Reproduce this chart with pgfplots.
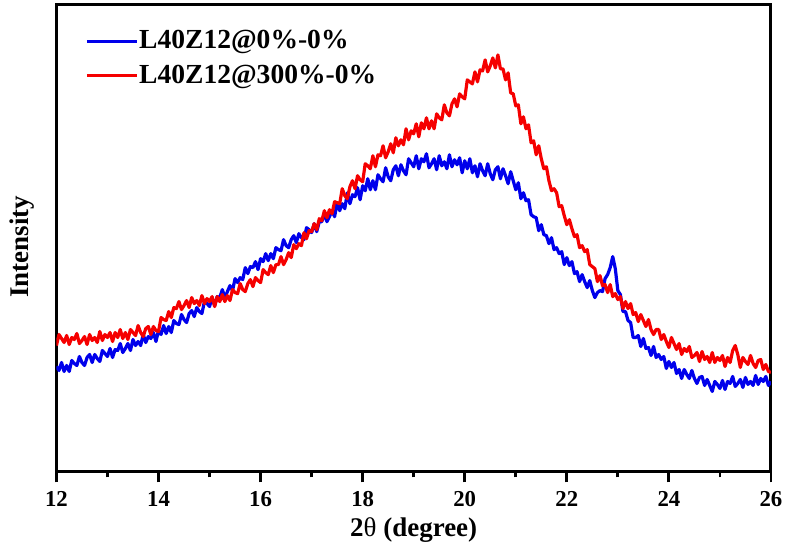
\documentclass[border=0pt]{standalone}
\usepackage{pgfplots}
\pgfplotsset{compat=1.18}
\usepackage{fontspec}
\setmainfont{Liberation Serif}
\definecolor{cblue}{RGB}{0,0,235}
\definecolor{cred}{RGB}{245,0,0}
\begin{document}
\begin{tikzpicture}
\begin{axis}[
  scale only axis, width=357.75pt, height=233.5pt,
  xmin=12, xmax=26, ymin=0, ymax=467,
  xtick={12,14,...,26}, minor x tick num=1, xtick pos=left, ytick=\empty,
  tick align=outside, major tick length=5.5pt, minor tick length=3pt,
  axis line style={line width=1.5pt},
  tick style={line width=1.4pt, black},
  /pgf/number format/assume math mode=true,
  xticklabel style={font=\bfseries\fontsize{11.4}{13}\selectfont, yshift=-1pt},
  xlabel={2{\mdseries θ} (degree)},
  ylabel={Intensity},
  xlabel style={font=\bfseries\fontsize{13.5}{16}\selectfont, at={(axis description cs:0.5,-0.139)}, anchor=base},
  ylabel style={font=\bfseries\fontsize{13.5}{16}\selectfont, at={(axis description cs:-0.048,0.482)}, anchor=center},
  legend style={draw=none, fill=none, inner sep=0pt, at={(axis description cs:0.0398,0.948)}, anchor=north west,
    font=\bfseries\fontsize{13.8}{16}\selectfont, row sep=5.5pt, nodes={inner sep=0.5pt}},
  legend image code/.code={\draw[#1, line width=1.5pt] (0pt,0pt) -- (25pt,0pt);},
  legend cell align=left,
  every axis plot/.append style={line width=1.6pt, line join=round},
]
\addplot[cblue, no marks] coordinates {
(12.00,105)(12.05,101)(12.10,109)(12.15,100)(12.20,106)(12.25,100)(12.30,111)(12.35,108)(12.40,106)(12.45,115)
(12.50,109)(12.55,106)(12.60,114)(12.65,117)(12.70,109)(12.75,117)(12.80,113)(12.85,110)(12.90,121)(12.95,118)
(13.00,115)(13.05,123)(13.10,114)(13.15,122)(13.20,121)(13.25,128)(13.30,119)(13.35,123)(13.40,128)(13.45,121)
(13.50,132)(13.55,126)(13.60,130)(13.65,126)(13.70,137)(13.75,129)(13.80,135)(13.85,133)(13.90,139)(13.95,130)
(14.00,141)(14.05,137)(14.10,146)(14.15,138)(14.20,145)(14.25,139)(14.30,151)(14.35,148)(14.40,147)(14.45,157)
(14.50,152)(14.55,149)(14.60,158)(14.65,161)(14.70,155)(14.75,164)(14.80,160)(14.85,158)(14.90,170)(14.95,168)
(15.00,165)(15.05,174)(15.10,166)(15.15,175)(15.20,174)(15.25,182)(15.30,174)(15.35,180)(15.40,186)(15.45,181)
(15.50,193)(15.55,189)(15.60,194)(15.65,192)(15.70,204)(15.75,198)(15.80,205)(15.85,204)(15.90,210)(15.95,202)
(16.00,213)(16.05,210)(16.10,218)(16.15,211)(16.20,218)(16.25,213)(16.30,224)(16.35,222)(16.40,221)(16.45,232)
(16.50,226)(16.55,224)(16.60,232)(16.65,236)(16.70,229)(16.75,238)(16.80,234)(16.85,232)(16.90,244)(16.95,242)
(17.00,239)(17.05,248)(17.10,240)(17.15,250)(17.20,250)(17.25,258)(17.30,250)(17.35,255)(17.40,261)(17.45,255)
(17.50,269)(17.55,261)(17.60,268)(17.65,263)(17.70,279)(17.75,268)(17.80,277)(17.85,275)(17.90,284)(17.95,272)
(18.00,286)(18.05,281)(18.10,293)(18.15,282)(18.20,291)(18.25,282)(18.30,297)(18.35,293)(18.40,290)(18.45,304)
(18.50,295)(18.55,291)(18.60,302)(18.65,306)(18.70,296)(18.75,307)(18.80,301)(18.85,297)(18.90,313)(18.95,309)
(19.00,305)(19.05,316)(19.10,303)(19.15,313)(19.20,310)(19.25,318)(19.30,304)(19.35,308)(19.40,313)(19.45,302)
(19.50,316)(19.55,306)(19.60,310)(19.65,303)(19.70,317)(19.75,305)(19.80,312)(19.85,307)(19.90,314)(19.95,299)
(20.00,311)(20.05,303)(20.10,313)(20.15,299)(20.20,306)(20.25,295)(20.30,308)(20.35,301)(20.40,296)(20.45,308)
(20.50,298)(20.55,292)(20.60,302)(20.65,305)(20.70,293)(20.75,303)(20.80,296)(20.85,288)(20.90,300)(20.95,291)
(21.00,282)(21.05,289)(21.10,273)(21.15,279)(21.20,271)(21.25,272)(21.30,257)(21.35,255)(21.40,254)(21.45,241)
(21.50,247)(21.55,237)(21.60,236)(21.65,228)(21.70,234)(21.75,222)(21.80,224)(21.85,218)(21.90,220)(21.95,207)
(22.00,214)(22.05,206)(22.10,210)(22.15,198)(22.20,200)(22.25,190)(22.30,197)(22.35,190)(22.40,184)(22.45,191)
(22.50,181)(22.55,174)(22.60,179)(22.65,181)(22.70,180)(22.75,193)(22.80,197)(22.85,204)(22.90,215)(22.95,203)
(23.00,181)(23.05,177)(23.10,160)(23.15,160)(23.20,151)(23.25,149)(23.30,134)(23.35,134)(23.40,136)(23.45,125)
(23.50,133)(23.55,123)(23.60,124)(23.65,116)(23.70,125)(23.75,114)(23.80,117)(23.85,112)(23.90,115)(23.95,103)
(24.00,110)(24.05,104)(24.10,109)(24.15,98)(24.20,102)(24.25,93)(24.30,102)(24.35,97)(24.40,93)(24.45,101)
(24.50,93)(24.55,88)(24.60,94)(24.65,95)(24.70,86)(24.75,92)(24.80,86)(24.85,80)(24.90,90)(24.95,87)
(25.00,83)(25.05,91)(25.10,82)(25.15,90)(25.20,88)(25.25,95)(25.30,85)(25.35,88)(25.40,92)(25.45,84)
(25.50,94)(25.55,87)(25.60,90)(25.65,86)(25.70,96)(25.75,87)(25.80,93)(25.85,90)(25.90,95)(25.95,86)(26.00,90)
};
\addlegendentry{L40Z12@0\%-0\%}
\addplot[cred, no marks] coordinates {
(12.00,126)(12.05,137)(12.10,133)(12.15,129)(12.20,136)(12.25,127)(12.30,134)(12.35,132)(12.40,138)(12.45,128)
(12.50,131)(12.55,135)(12.60,127)(12.65,137)(12.70,131)(12.75,134)(12.80,129)(12.85,140)(12.90,131)(12.95,137)
(13.00,134)(13.05,139)(13.10,130)(13.15,139)(13.20,134)(13.25,142)(13.30,133)(13.35,139)(13.40,132)(13.45,142)
(13.50,139)(13.55,136)(13.60,146)(13.65,139)(13.70,135)(13.75,143)(13.80,145)(13.85,137)(13.90,145)(13.95,141)
(14.00,140)(14.05,154)(14.10,152)(14.15,151)(14.20,160)(14.25,154)(14.30,164)(14.35,163)(14.40,170)(14.45,162)
(14.50,166)(14.55,171)(14.60,164)(14.65,174)(14.70,168)(14.75,171)(14.80,166)(14.85,176)(14.90,168)(14.95,173)
(15.00,170)(15.05,175)(15.10,165)(15.15,175)(15.20,170)(15.25,177)(15.30,170)(15.35,176)(15.40,171)(15.45,182)
(15.50,179)(15.55,178)(15.60,188)(15.65,182)(15.70,180)(15.75,188)(15.80,192)(15.85,185)(15.90,194)(15.95,191)
(16.00,189)(16.05,202)(16.10,199)(16.15,197)(16.20,206)(16.25,199)(16.30,207)(16.35,207)(16.40,215)(16.45,207)
(16.50,212)(16.55,219)(16.60,214)(16.65,227)(16.70,223)(16.75,228)(16.80,226)(16.85,239)(16.90,233)(16.95,241)
(17.00,240)(17.05,248)(17.10,242)(17.15,253)(17.20,251)(17.25,261)(17.30,254)(17.35,262)(17.40,258)(17.45,270)
(17.50,269)(17.55,268)(17.60,283)(17.65,276)(17.70,273)(17.75,285)(17.80,291)(17.85,283)(17.90,296)(17.95,292)
(18.00,290)(18.05,308)(18.10,306)(18.15,303)(18.20,316)(18.25,305)(18.30,317)(18.35,316)(18.40,326)(18.45,314)
(18.50,320)(18.55,328)(18.60,319)(18.65,334)(18.70,326)(18.75,332)(18.80,327)(18.85,343)(18.90,332)(18.95,341)
(19.00,338)(19.05,348)(19.10,335)(19.15,349)(19.20,343)(19.25,354)(19.30,343)(19.35,351)(19.40,343)(19.45,358)
(19.50,354)(19.55,352)(19.60,367)(19.65,359)(19.70,356)(19.75,368)(19.80,373)(19.85,365)(19.90,378)(19.95,375)
(20.00,373)(20.05,392)(20.10,390)(20.15,388)(20.20,400)(20.25,390)(20.30,402)(20.35,401)(20.40,412)(20.45,400)
(20.50,406)(20.55,414)(20.60,404)(20.65,417)(20.70,403)(20.75,403)(20.80,392)(20.85,399)(20.90,379)(20.95,378)
(21.00,366)(21.05,367)(21.10,348)(21.15,355)(21.20,343)(21.25,347)(21.30,329)(21.35,331)(21.40,317)(21.45,326)
(21.50,313)(21.55,303)(21.60,305)(21.65,291)(21.70,281)(21.75,283)(21.80,279)(21.85,265)(21.90,266)(21.95,256)
(22.00,247)(22.05,252)(22.10,243)(22.15,235)(22.20,237)(22.25,224)(22.30,226)(22.35,220)(22.40,222)(22.45,207)
(22.50,205)(22.55,203)(22.60,190)(22.65,196)(22.70,186)(22.75,187)(22.80,179)(22.85,187)(22.90,175)(22.95,178)
(23.00,172)(23.05,175)(23.10,163)(23.15,170)(23.20,163)(23.25,168)(23.30,157)(23.35,159)(23.40,150)(23.45,157)
(23.50,151)(23.55,145)(23.60,152)(23.65,142)(23.70,137)(23.75,142)(23.80,142)(23.85,132)(23.90,137)(23.95,130)
(24.00,124)(24.05,134)(24.10,128)(24.15,122)(24.20,128)(24.25,117)(24.30,123)(24.35,120)(24.40,125)(24.45,114)
(24.50,116)(24.55,119)(24.60,110)(24.65,120)(24.70,112)(24.75,115)(24.80,109)(24.85,119)(24.90,109)(24.95,114)
(25.00,111)(25.05,116)(25.10,105)(25.15,114)(25.20,109)(25.25,121)(25.30,126)(25.35,117)(25.40,104)(25.45,114)
(25.50,110)(25.55,107)(25.60,116)(25.65,108)(25.70,104)(25.75,111)(25.80,112)(25.85,102)(25.90,107)(25.95,100)(26.00,99)
};
\addlegendentry{L40Z12@300\%-0\%}
\coordinate (bbsw) at (rel axis cs:-0.0790,-0.1649);
\coordinate (bbne) at (rel axis cs:1.0238,1.0107);
\end{axis}
\path (bbsw) rectangle (bbne);
\end{tikzpicture}
\end{document}
